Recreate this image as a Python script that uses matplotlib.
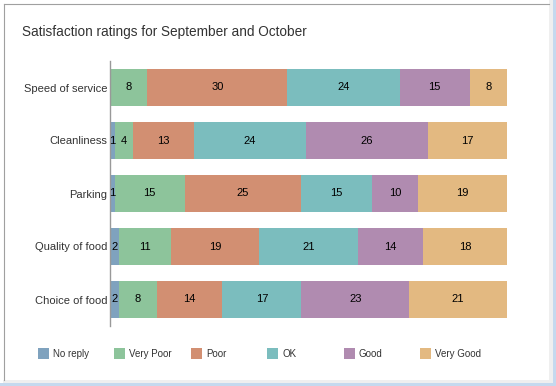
import numpy as np
import matplotlib
matplotlib.use("Agg")
import matplotlib.pyplot as plt
from matplotlib.patches import Rectangle

plt.rcParams['font.family'] = ['Liberation Sans', 'DejaVu Sans']

# data
categories = ["Speed of service", "Cleanliness", "Parking", "Quality of food", "Choice of food"]
ratings = ["No reply", "Very Poor", "Poor", "OK", "Good", "Very Good"]
no_reply = [0, 1, 1, 2, 2]
very_poor = [8, 4, 15, 11, 8]
poor = [30, 13, 25, 19, 14]
ok = [24, 24, 15, 21, 17]
good = [15, 26, 10, 14, 23]
very_good = [8, 17, 19, 18, 21]
series = [no_reply, very_poor, poor, ok, good, very_good]
colors = ["#7fa2be", "#8dc49b", "#d28f72", "#7bbdbe", "#b08bb0", "#e3b981"]

W, H = 556, 386
fig = plt.figure(figsize=(W / 100, H / 100), dpi=100)
fig.patch.set_facecolor("white")

# window frame
fig.patches.append(Rectangle((0, 0), 1, 3 / H, transform=fig.transFigure,
                             facecolor="#c5d9ee", edgecolor="none", zorder=0))
fig.patches.append(Rectangle((553 / W, 0), 3 / W, 1, transform=fig.transFigure,
                             facecolor="#c5d9ee", edgecolor="none", zorder=0))
fig.patches.append(Rectangle((549 / W, 3 / H), 4 / W, 1 - 3 / H, transform=fig.transFigure,
                             facecolor="#efefef", edgecolor="none", zorder=0))
fig.patches.append(Rectangle((3 / W, 3 / H), 546 / W, 3 / H, transform=fig.transFigure,
                             facecolor="#efefef", edgecolor="none", zorder=0))
fig.add_artist(plt.Line2D([3.5 / W, 3.5 / W], [6 / H, 1 - 3.5 / H], transform=fig.transFigure,
                          color="#a0a0a0", lw=0.8))
fig.add_artist(plt.Line2D([3.5 / W, 549 / W], [1 - 3.5 / H, 1 - 3.5 / H], transform=fig.transFigure,
                          color="#a0a0a0", lw=0.8))

ax = fig.add_axes([110 / W, 1 - 326 / H, (507 - 110) / W, (326 - 61) / H])
y = np.arange(len(categories))
left = np.zeros(len(categories))
for vals, col in zip(series, colors):
    bars = ax.barh(y, vals, left=left, height=0.7, color=col, edgecolor="none")
    ax.bar_label(bars, labels=[str(v) if v else "" for v in vals], label_type="center",
                 fontsize=8, color="black")
    left += np.array(vals)

ax.set_xlim(0, left.max())
ax.set_ylim(len(categories) - 0.5, -0.5)
ax.set_yticks(y)
ax.set_yticklabels(categories, fontsize=8, color="#333333")
ax.tick_params(axis="y", length=0, pad=2)
ax.set_xticks([])
for s in ["top", "right", "bottom"]:
    ax.spines[s].set_visible(False)
ax.spines["left"].set_color("#999999")
ax.spines["left"].set_linewidth(1)
ax.set_facecolor("none")

fig.text(22 / W, 1 - 32 / H, "Satisfaction ratings for September and October",
         fontsize=9.8, color="#333333", va="center", ha="left")

# legend
for i, (name, col) in enumerate(zip(ratings, colors)):
    x0 = 38 + 76.4 * i
    fig.patches.append(Rectangle((x0 / W, 1 - 359 / H), 11 / W, 11 / H,
                                 transform=fig.transFigure, facecolor=col, edgecolor="none"))
    fig.text((x0 + 15) / W, 1 - 354 / H, name, fontsize=7, color="#333333",
             va="center", ha="left")

fig.savefig("out.png", dpi=100)
